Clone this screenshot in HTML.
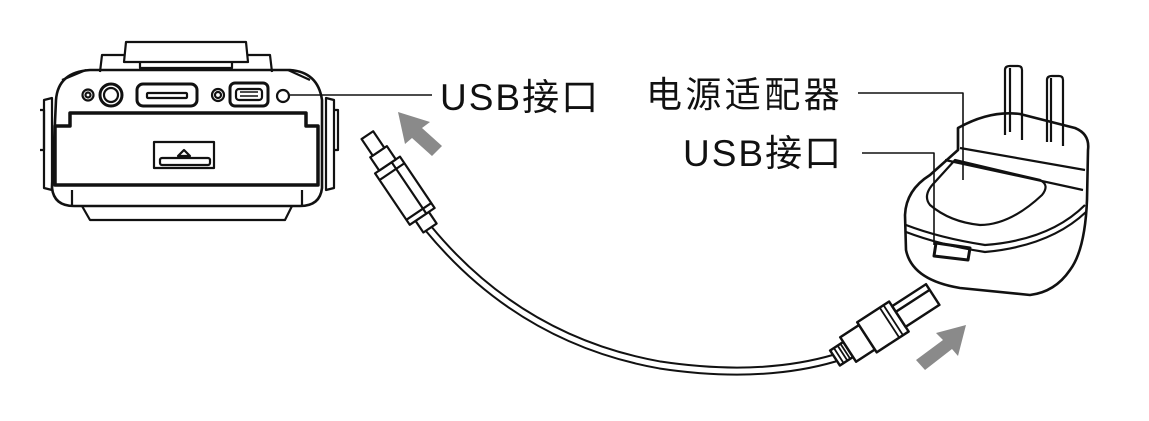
<!DOCTYPE html>
<html><head><meta charset="utf-8"><style>
html,body{margin:0;padding:0;background:#fff;}
svg{display:block}
text{font-family:"Liberation Sans","Noto Sans CJK SC",sans-serif;fill:#111;}
</style></head><body>
<svg width="1149" height="421" viewBox="0 0 1149 421" xmlns="http://www.w3.org/2000/svg">
<g fill="none" stroke="#111" stroke-width="2.2" stroke-linejoin="round">
  <!-- camera -->
  <path d="M124 62 L126 42 L246 42 L248 62 Z"/>
  <path d="M100 72 L102 55 L124 55 M248 55 L270 55 L272 72"/>
  <path d="M140 62 L140 68 L232 68 L232 62"/>
  <path d="M56 100 Q58 72 90 70 L290 70 Q318 72 322 100 L322 188 Q320 206 300 206 L74 206 Q54 206 52 188 Z" stroke-width="2.6"/>
  <path d="M62 80 L86 70 M310 80 L288 70"/>
  <path d="M44 100 L52 98 L52 190 L44 188 Z M326 98 L334 100 L334 188 L326 190 Z"/>
  <path d="M40 110 L44 110 L44 150 L40 150 M334 110 L338 110 L338 150 L334 150"/>
  <path d="M55 126 L70 126 L70 113 L306 113 L306 126 L318 126 L318 185 L55 185 Z" stroke-width="3.5"/>
  <path d="M72 190 L72 205 M302 190 L302 205"/>
  <path d="M82 206 L90 220 L285 220 L292 206"/>
  <rect x="154" y="142" width="60" height="26"/>
  <rect x="160" y="158" width="50" height="7" rx="2"/>
  <path d="M178 156 L184 150 L190 156 Z"/>
  <circle cx="88" cy="95" r="5.5"/><circle cx="88" cy="95" r="2.5"/>
  <circle cx="111" cy="95" r="11" stroke-width="3"/><circle cx="111" cy="95" r="7"/>
  <rect x="137" y="84" width="60" height="22" rx="6" stroke-width="3"/>
  <rect x="147" y="93" width="40" height="5" rx="1"/>
  <circle cx="218" cy="95" r="6"/><circle cx="218" cy="95" r="3"/>
  <rect x="230" y="83" width="38" height="23" rx="5" stroke-width="3"/>
  <rect x="236" y="89" width="26" height="11" rx="3"/>
  <path d="M240 92 L258 92 M240 96 L258 96" stroke-width="1.5"/>
  <circle cx="283" cy="96" r="6"/>
  <!-- leader lines -->
  <path d="M290 95 L432 95" stroke-width="1.6"/>
  <path d="M858 93 L963 93 L963 180" stroke-width="1.6"/>
  <path d="M862 153 L934 153 L934 245" stroke-width="1.6"/>
  <!-- adapter -->
  <path d="M1005 135 L1005 70 Q1005 66 1010 66 L1018 66 Q1022 66 1022 70 L1022 140"/>
  <path d="M1010 68 L1010 132"/>
  <path d="M1047 142 L1047 80 Q1047 76 1052 76 L1059 76 Q1063 76 1063 80 L1063 146"/>
  <path d="M1051 78 L1051 142"/>
  <path d="M958 128 Q990 110 1020 114 L1075 128 Q1090 134 1088 150 L1087 200 Q1085 250 1070 270 Q1055 292 1030 295 L960 288 Q912 280 906 250 L905 215 Q906 190 930 175 L958 150 Z" stroke-width="2.6"/>
  <path d="M958 128 L958 150 M960 148 L1085 170"/>
  <path d="M955 160 L1040 180 Q1050 185 1042 195 Q1010 225 980 225 Q950 222 930 205 Q922 195 935 182 Z"/>
  <path d="M945 160 L1083 190" />
  <path d="M906 225 Q940 238 985 245 Q1050 240 1085 205"/>
  <path d="M906 232 Q940 245 985 252 Q1050 246 1086 212"/>
  <path d="M936 243 L970 248 L968 260 L934 256 Z" stroke-width="3"/>
  <!-- cable -->
  <path d="M428 228 Q520 340 660 365 Q760 380 835 358" stroke-width="9"/>
  <path d="M428 228 Q520 340 660 365 Q760 380 835 358" stroke="#fff" stroke-width="5"/>
  <!-- camera-side connector -->
  <g transform="translate(430,228) rotate(-124)" fill="#fff">
    <rect x="0" y="-8" width="14" height="16"/>
    <rect x="14" y="-15" width="62" height="30"/>
    <path d="M20 -15 L20 15 M68 -15 L68 15 M14 5 L76 5"/>
    <rect x="76" y="-10" width="16" height="20"/>
    <rect x="92" y="-7" width="20" height="14"/>
  </g>
  <!-- adapter-side connector -->
  <g transform="translate(835,358) rotate(-33) scale(1.12)" fill="#fff">
    <rect x="0" y="-8" width="14" height="16"/>
    <path d="M4 -8 L4 8 M8 -8 L8 8 M11 -8 L11 8" stroke-width="1.6"/>
    <rect x="14" y="-13" width="20" height="26"/>
    <rect x="34" y="-16" width="34" height="32"/>
    <path d="M58 -16 L58 16 M62 -16 L62 16" stroke-width="1.6"/>
    <rect x="68" y="-11" width="36" height="22"/>
    <path d="M68 -5 L104 -5"/>
  </g>
</g>
<!-- grey arrows -->
<g fill="#8a8a8a">
  <path d="M398 112 L430 122 L422 128 L442 146 L432 156 L412 138 L405 144 Z"/>
  <path d="M966 325 L958 356 L952 349 L925 370 L916 360 L943 340 L936 333 Z"/>
</g>
<text x="440" y="110" font-size="37" letter-spacing="2">USB接口</text>
<text x="646" y="107" font-size="36" letter-spacing="3.4">电源适配器</text>
<text x="683" y="166" font-size="37" letter-spacing="2">USB接口</text>
</svg>
</body></html>
